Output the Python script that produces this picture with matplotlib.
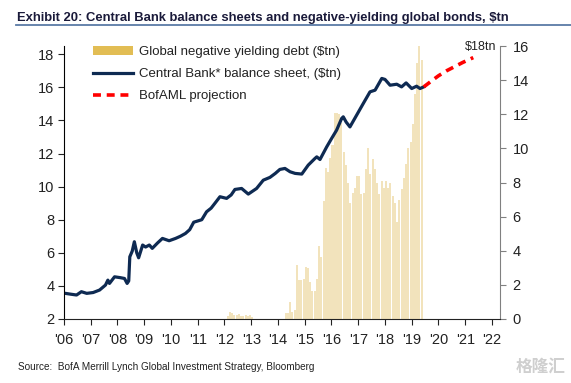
import numpy as np
import matplotlib.pyplot as plt
from matplotlib.patches import Patch
from matplotlib.lines import Line2D

# central bank balance sheet, $tn (decimal year, value)
cb_t = [2006.05, 2006.25, 2006.47, 2006.65, 2006.85, 2007.09, 2007.33, 2007.55, 2007.64, 2007.7,
        2007.89, 2008.1, 2008.26, 2008.36, 2008.42, 2008.46, 2008.55, 2008.63, 2008.72, 2008.79,
        2008.94, 2009.05, 2009.19, 2009.3, 2009.5, 2009.68, 2009.93, 2010.17, 2010.35, 2010.54,
        2010.7, 2010.85, 2011.15, 2011.33, 2011.5, 2011.64, 2011.83, 2012.08, 2012.25, 2012.39,
        2012.64, 2012.89, 2013.2, 2013.45, 2013.7, 2013.9, 2014.07, 2014.26, 2014.45, 2014.64,
        2014.89, 2015.13, 2015.38, 2015.45, 2015.57, 2015.82, 2016.0, 2016.19, 2016.38, 2016.44,
        2016.55, 2016.69, 2016.94, 2017.19, 2017.44, 2017.63, 2017.88, 2018.0, 2018.19, 2018.44,
        2018.62, 2018.79, 2019.0, 2019.18, 2019.31, 2019.45]
cb_v = [3.55, 3.5, 3.45, 3.65, 3.55, 3.6, 3.75, 4.05, 4.35, 4.15,
        4.55, 4.5, 4.45, 4.15, 4.3, 5.76, 6.1, 6.67, 6.0, 5.7,
        6.47, 6.35, 6.47, 6.27, 6.6, 6.87, 6.73, 6.87, 7.0, 7.17,
        7.4, 7.85, 8.0, 8.48, 8.7, 8.99, 9.39, 9.29, 9.5, 9.83,
        9.89, 9.55, 9.89, 10.39, 10.56, 10.8, 11.04, 11.1, 10.9, 10.8,
        10.76, 11.3, 11.7, 11.8, 11.64, 12.4, 12.9, 13.41, 14.12, 14.22,
        13.9, 13.61, 14.32, 15.03, 15.73, 15.83, 16.54, 16.48, 16.13, 16.19,
        16.03, 16.27, 15.93, 16.07, 15.93, 16.03]

# BofAML projection
proj_t = [2019.45, 2019.75, 2020.0, 2020.3, 2020.6, 2020.9, 2021.3]
proj_v = [16.03, 16.4, 16.7, 17.0, 17.25, 17.5, 17.8]

# global negative yielding debt, $tn, monthly from Feb 2012
neg_start = 2012 + 1 / 12
neg_v = [0.2, 0.43, 0.35, 0.22, 0.25, 0.32, 0.2, 0.2, 0.22, 0.15, 0.22,      # 2012
         0.1, 0, 0, 0, 0, 0, 0, 0, 0, 0, 0, 0,                              # 2013
         0, 0, 0, 0.37, 0.37, 1.0, 0.4, 0.5, 3.17, 2.28, 2.3, 2.35,        # 2014
         3.07, 3.0, 2.18, 1.65, 1.65, 2.36, 4.25, 3.66, 6.9, 8.87, 8.6, 9.46,  # 2015
         10.2, 12.1, 12.1, 12.0, 11.5, 9.8, 9.0, 8.0, 6.8, 7.4, 7.7, 8.4,  # 2016
         8.4, 7.3, 7.4, 8.8, 10.05, 8.5, 9.4, 8.8, 8.0, 7.3, 8.1, 7.7,     # 2017
         8.1, 7.7, 8.0, 7.2, 6.8, 5.7, 7.0, 7.6, 8.28, 9.07, 10.0, 10.4,   # 2018
         11.45, 13.2, 15.0, 16.05, 15.2]                                    # 2019
neg_t = [neg_start + i / 12 for i in range(len(neg_v))]

years = list(range(2006, 2023))
year_labels = ["'%02d" % (y % 100) for y in years]

plt.rcParams['font.family'] = ['Liberation Sans', 'DejaVu Sans']

navy = '#0E2A52'
gold = '#E2BD54'
wheat = '#F2E3BC'

fig = plt.figure(figsize=(5.71, 3.83), dpi=100)
ax = fig.add_axes([64 / 571, 1 - 319 / 383, 436 / 571, 273 / 383])
ax2 = ax.twinx()

ax2.bar(neg_t, neg_v, width=0.076, align='edge', color=wheat, linewidth=0)
ax.plot(cb_t, cb_v, color=navy, lw=2.3, solid_joinstyle='round')
ax.plot(proj_t, proj_v, color='#FF0000', lw=2.6, dashes=(2.2, 1.6))
ax.set_zorder(ax2.get_zorder() + 1)
ax.patch.set_visible(False)

ax.set_xlim(2006, 2022.3)
ax.set_ylim(2, 18.5)
ax2.set_ylim(0, 16)
ax.set_xticks(years)
ax.set_xticklabels(year_labels)
ax.set_yticks(range(2, 19, 2))
ax2.set_yticks(range(0, 17, 2))

for a in (ax, ax2):
    a.spines['top'].set_visible(False)
ax.spines['right'].set_visible(False)
ax2.spines['left'].set_visible(False)
ax2.spines['bottom'].set_visible(False)
ax.spines['left'].set_color('#000000')
ax.spines['bottom'].set_color('#222222')
ax2.spines['right'].set_color('#808080')
ax.tick_params(axis='both', labelsize=10.5, length=4, width=0.8, colors='#222222', pad=3)
ax.tick_params(axis='x', pad=6)
ax2.tick_params(axis='y', labelsize=10.5, length=4, width=0.8, colors='#808080',
                labelcolor='#222222', pad=5)

ax.text(2022.16, 18.45, '$18tn', fontsize=9, ha='right', va='center', color='#222222')

handles = [Patch(facecolor=gold, edgecolor='none'),
           Line2D([], [], color=navy, lw=2.3),
           Line2D([], [], color='#FF0000', lw=2.6, dashes=(2.2, 1.6))]
labels = ['Global negative yielding debt ($tn)', 'Central Bank* balance sheet, ($tn)',
          'BofAML projection']
leg = ax.legend(handles, labels, loc='upper left', bbox_to_anchor=(0.04, 1.043), frameon=False,
                fontsize=9.5, handlelength=3.0, handleheight=0.6, handletextpad=0.45,
                labelspacing=0.75, labelcolor='#222222')

fig.text(17 / 571, 1 - 17.5 / 383, 'Exhibit 20: Central Bank balance sheets and negative-yielding global bonds, $tn',
         fontsize=9.35, fontweight='bold', color='#1A1A3A', va='center', ha='left')
fig.add_artist(Line2D([16 / 571, 1.0], [1 - 24.5 / 383, 1 - 24.5 / 383], color='#5B7BA6', lw=1.3))
fig.text(18 / 571, 1 - 367 / 383, 'Source:  BofA Merrill Lynch Global Investment Strategy, Bloomberg',
         fontsize=7.2, color='#222222', va='center', ha='left')
fig.text(566 / 571, 1 - 367 / 383, '格隆汇', fontsize=12, color='#CFCFCF', va='center', ha='right',
         family=['Noto Sans CJK SC', 'DejaVu Sans'], fontweight='bold')

fig.savefig('out.png', dpi=100)
